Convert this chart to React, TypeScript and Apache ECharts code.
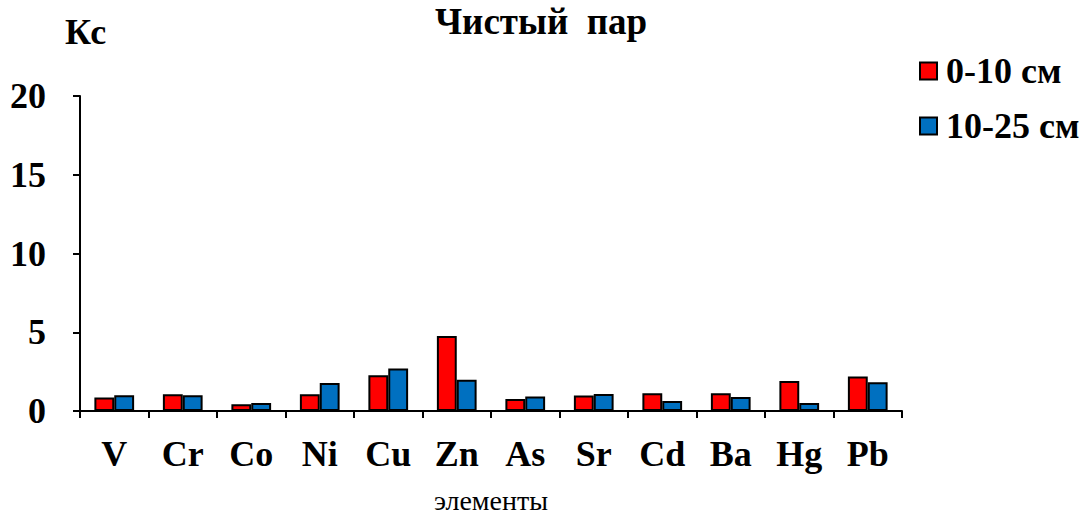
import React, { useEffect, useRef } from "react";
import * as echarts from "echarts";

const elements = ["V", "Cr", "Co", "Ni", "Cu", "Zn", "As", "Sr", "Cd", "Ba", "Hg", "Pb"];
const depth0to10 = [0.85, 1.06, 0.43, 1.06, 2.27, 4.76, 0.76, 0.98, 1.13, 1.13, 1.91, 2.19];
const depth10to25 = [1.0, 1.0, 0.51, 1.77, 2.7, 1.98, 0.92, 1.08, 0.64, 0.89, 0.51, 1.83];
const seriesNames = ["0-10 см", "10-25 см"];
const seriesColors = ["#FF0000", "#0070C0"];

const FONT = "'Liberation Serif', 'Times New Roman', serif";

export default function App() {
  const ref = useRef<HTMLDivElement>(null);

  useEffect(() => {
    if (!ref.current) return;
    const chart = echarts.init(ref.current, null, { renderer: "svg" });
    const barStyle = (i: number) => ({
      color: seriesColors[i],
      borderColor: "#000",
      borderWidth: 2,
    });
    chart.setOption({
      animation: false,
      backgroundColor: "#fff",
      textStyle: { fontFamily: FONT, color: "#000" },
      title: {
        text: "Чистый  пар",
        left: 541,
        textAlign: "center",
        top: 3,
        padding: 0,
        textStyle: { fontFamily: FONT, fontSize: 37, fontWeight: "bold", color: "#000" },
      },
      graphic: [
        {
          type: "text",
          left: 65,
          top: 14,
          style: { text: "Кс", font: `bold 36px ${FONT}`, fill: "#000" },
        },
      ],
      legend: {
        orient: "vertical",
        left: 914,
        top: 48,
        itemWidth: 17,
        itemHeight: 17,
        itemGap: 19,
        icon: "rect",
        data: seriesNames,
        textStyle: { fontFamily: FONT, fontSize: 36, fontWeight: "bold", color: "#000", padding: [0, 0, 0, 4] },
      },
      grid: {
        left: 80,
        right: 1089 - 902,
        top: 96,
        bottom: 515 - 411,
        containLabel: false,
        outerBoundsMode: "none",
      },
      xAxis: {
        type: "category",
        data: elements,
        name: "элементы",
        nameLocation: "middle",
        nameGap: 79,
        nameTextStyle: { fontFamily: FONT, fontSize: 28, lineHeight: 20, color: "#000" },
        axisLine: { lineStyle: { color: "#000", width: 2 } },
        axisTick: { show: true, length: 7, lineStyle: { color: "#000", width: 2 } },
        axisLabel: { fontFamily: FONT, fontSize: 36, fontWeight: "bold", color: "#000", margin: 25 },
      },
      yAxis: {
        type: "value",
        min: 0,
        max: 20,
        interval: 5,
        axisLine: { show: true, lineStyle: { color: "#000", width: 2 } },
        axisTick: { show: true, length: 7, lineStyle: { color: "#000", width: 2 } },
        splitLine: { show: false },
        axisLabel: { fontFamily: FONT, fontSize: 36, fontWeight: "bold", color: "#000", margin: 34 },
      },
      series: [
        {
          name: seriesNames[0],
          type: "bar",
          data: depth0to10,
          barGap: "0%",
          barCategoryGap: "42%",
          itemStyle: barStyle(0),
        },
        {
          name: seriesNames[1],
          type: "bar",
          data: depth10to25,
          itemStyle: barStyle(1),
        },
      ],
    });
    return () => chart.dispose();
  }, []);

  return (
    <div
      ref={ref}
      style={{ position: "fixed", left: 0, top: 0, width: 1089, height: 515 }}
    />
  );
}
